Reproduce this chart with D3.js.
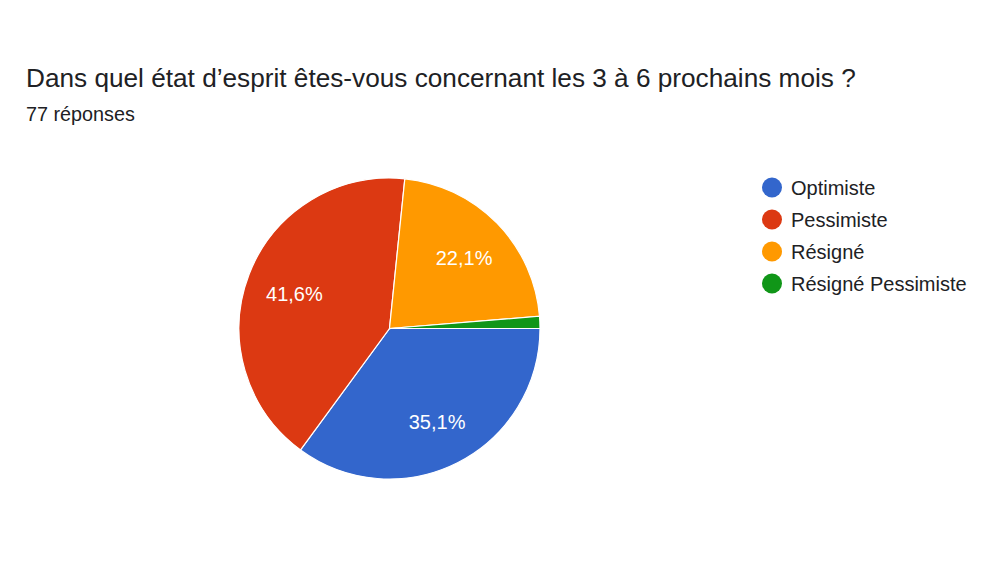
<!DOCTYPE html>
<html><head><meta charset="utf-8">
<script src="https://cdn.jsdelivr.net/npm/d3@7"></script>
<style>body{margin:0;background:#fff;} svg{display:block;font-family:"Liberation Sans",Arial,Helvetica,sans-serif;}</style>
</head><body>
<svg id="c" width="1000" height="562"></svg>
<script>
const title = "Dans quel état d’esprit êtes-vous concernant les 3 à 6 prochains mois ?";
const subtitle = "77 réponses";
const categories = ["Optimiste", "Pessimiste", "Résigné", "Résigné Pessimiste"];
const counts = [27, 32, 17, 1];
const colors = ["#3366cc", "#dc3912", "#ff9900", "#109618"];

const svg = d3.select("#c");
svg.append("text").attr("x", 26).attr("y", 87).attr("font-size", 26.2).attr("fill", "#202124").text(title);
svg.append("text").attr("x", 26).attr("y", 121).attr("font-size", 19.8).attr("fill", "#202124").text(subtitle);

const total = d3.sum(counts);
const data = categories.map((c, i) => ({cat: c, v: counts[i], col: colors[i]}));
const pie = d3.pie().value(d => d.v).sort(null).startAngle(Math.PI / 2).endAngle(Math.PI / 2 + 2 * Math.PI);
const r = 150.5;
const arc = d3.arc().innerRadius(0).outerRadius(r);
const labelArc = d3.arc().innerRadius(103).outerRadius(103);
const g = svg.append("g").attr("transform", "translate(389.5,328.5)");
const arcs = pie(data);
g.selectAll("path").data(arcs).join("path")
  .attr("d", arc).attr("fill", d => d.data.col).attr("stroke", "#fff").attr("stroke-width", 1.2);
const fmt = v => (v / total * 100).toFixed(1).replace(".", ",") + "%";
g.selectAll("text").data(arcs.filter(d => d.data.v / total > 0.05)).join("text")
  .attr("transform", d => `translate(${labelArc.centroid(d)})`)
  .attr("text-anchor", "middle").attr("x", 1).attr("y", 9)
  .attr("font-size", 20).attr("fill", "#fff").text(d => fmt(d.data.v));

const lg = svg.append("g");
const ly = d3.scaleBand().domain(categories).range([172, 300]);
const items = lg.selectAll("g").data(data).join("g")
  .attr("transform", d => `translate(772,${ly(d.cat) + ly.bandwidth() / 2 - 0.5})`);
items.append("circle").attr("r", 10).attr("fill", d => d.col);
items.append("text").attr("x", 19).attr("dominant-baseline", "central").attr("font-size", 20).attr("fill", "#202124").text(d => d.cat);
</script>
</body></html>
